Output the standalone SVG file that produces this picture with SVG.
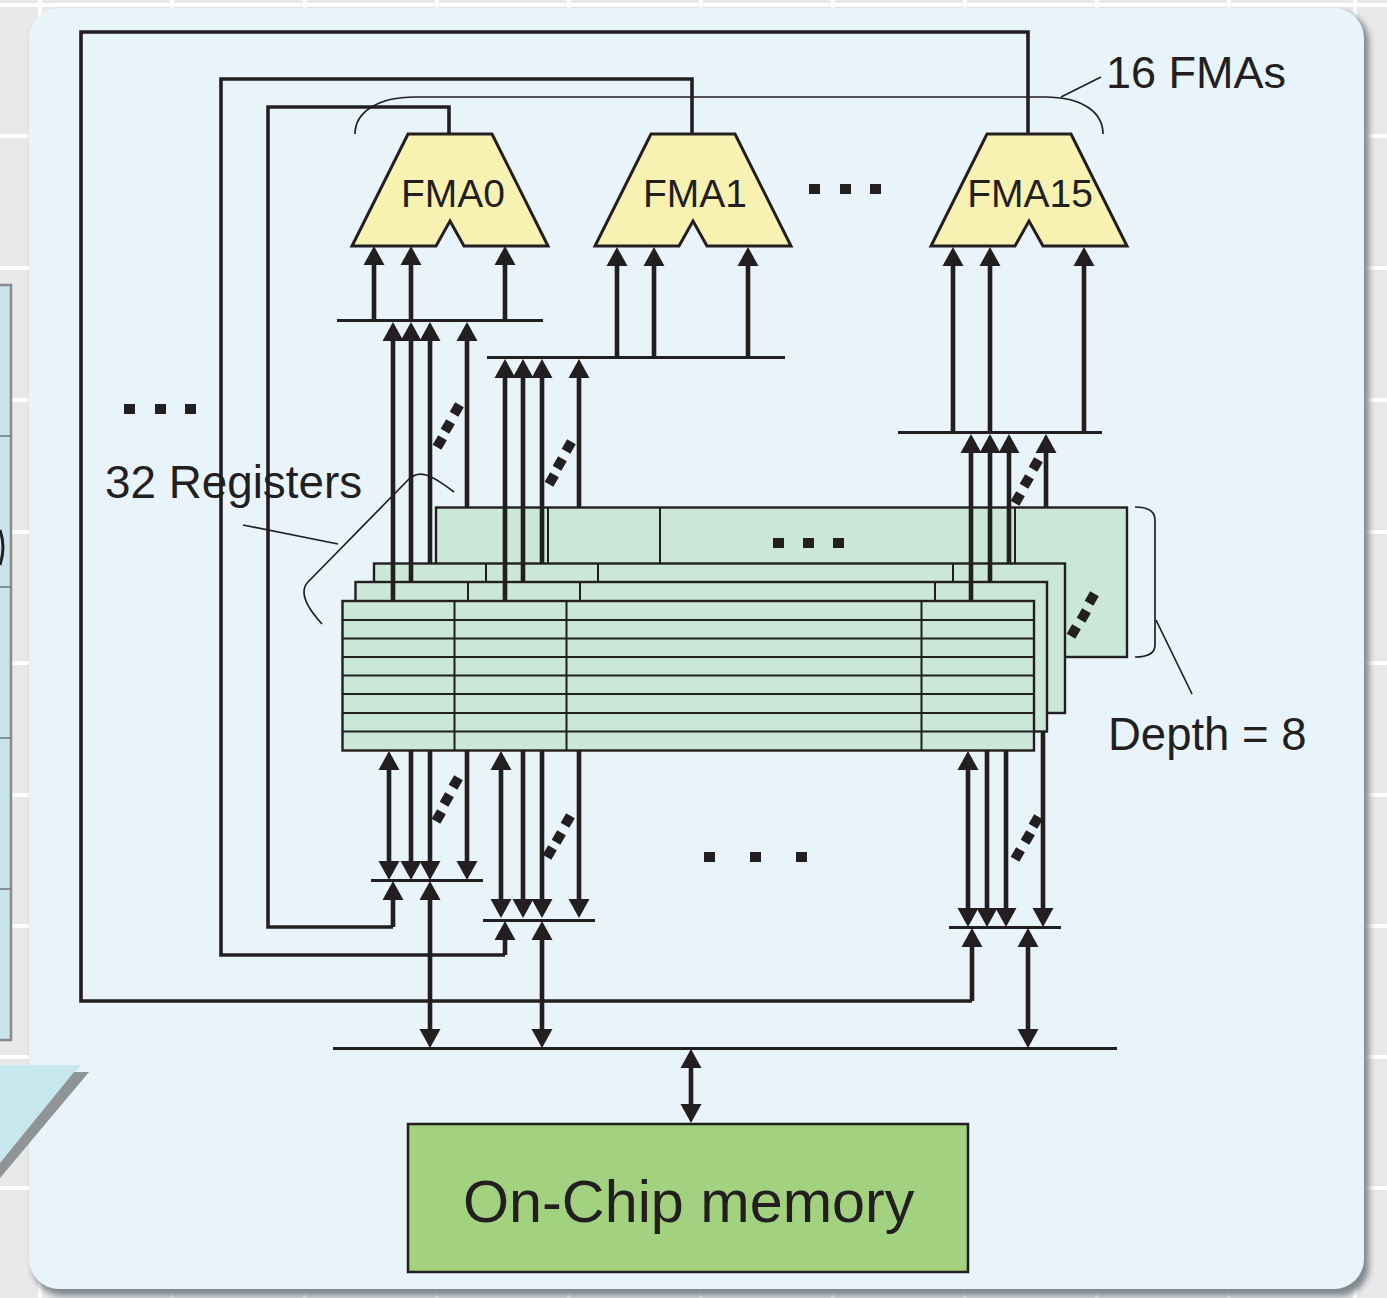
<svg xmlns="http://www.w3.org/2000/svg" width="1387" height="1298" viewBox="0 0 1387 1298">
<style>
.grid{stroke:#fff;stroke-width:4;fill:none}
.reg{fill:#cbe7d8;stroke:#231f20;stroke-width:2.4}
.sep{stroke:#231f20;stroke-width:2;fill:none}
.fma{fill:#f7f2b2;stroke:#231f20;stroke-width:3;stroke-linejoin:miter}
.w{stroke:#231f20;stroke-width:4.6;fill:none}
.wire{stroke:#231f20;stroke-width:3.6;fill:none}
.bus{stroke:#231f20;stroke-width:3.2;fill:none}
.thin{stroke:#231f20;stroke-width:1.7;fill:none}
.a{marker-end:url(#arr)}
.b{marker-start:url(#arr);marker-end:url(#arr)}
.d{fill:#231f20}
text{font-family:"Liberation Sans",Arial,sans-serif;fill:#231f20}
.f{font-size:39px;text-anchor:middle}
.l{font-size:45px}
</style>
<defs>
<marker id="arr" markerUnits="userSpaceOnUse" markerWidth="20" markerHeight="22" viewBox="0 0 20 22" refX="2" refY="11" orient="auto-start-reverse"><path d="M0 0.500L19 11L0 21.500Z" fill="#231f20"/></marker>
<filter id="sh" x="-5%" y="-5%" width="110%" height="110%"><feGaussianBlur stdDeviation="3"/></filter>
<rect id="sq" x="-5" y="-5" width="10" height="11" fill="#231f20"/>
</defs>
<g id="background">
<rect width="1387" height="1298" fill="#e9e9ea"/>
<path class="grid" d="M0 5H1387M0 136H1387M0 268H1387M0 400H1387M0 532H1387M0 663H1387M0 795H1387M0 926H1387M0 1057H1387M0 1188H1387M40 0V1298M172 0V1298M305 0V1298M437 0V1298M569 0V1298M701 0V1298M833 0V1298M965 0V1298M1097 0V1298M1229 0V1298M1355 0V1298"/>
<rect x="-6" y="285" width="17" height="755" fill="#c8e4ea" stroke="#8a8a8c" stroke-width="2.5"/>
<path d="M0 436H11M0 587H11M0 738H11M0 889H11" stroke="#6e7477" stroke-width="1.5"/>
<path d="M0 530Q6 547 0 565" stroke="#231f20" stroke-width="3" fill="none"/>
<rect x="33" y="12" width="1336" height="1284" rx="30" fill="#7e878d" filter="url(#sh)"/>
<rect x="29" y="8" width="1335" height="1281" rx="30" fill="#e8f4f9"/>
<path d="M0 1065H81L0 1163Z" fill="#c6e8ee"/>
<path d="M74 1072H89L0 1178V1163Z" fill="#8f9497"/>
</g>
<g id="registers">
<g id="reg-layer-4"><rect class="reg" x="436" y="507.500" width="691" height="149.500"/><path class="sep" d="M548 507V563M660 507V563M1015 507V563"/></g>
<g id="reg-layer-3"><rect class="reg" x="374" y="563.500" width="691" height="149.500"/><path class="sep" d="M486 563V582M598 563V582M953 563V582"/></g>
<g id="reg-layer-2"><rect class="reg" x="355.500" y="582" width="691.500" height="149.500"/><path class="sep" d="M468 582V601M580 582V601M935 582V601"/></g>
<g id="reg-layer-1"><rect class="reg" x="342.500" y="601" width="691.500" height="149.500"/><path class="sep" d="M342 620H1034M342 638.500H1034M342 657H1034M342 675.500H1034M342 694H1034M342 713H1034M342 731.500H1034M454.500 601V750M566.500 601V750M921.500 601V750"/></g>
</g>
<g id="connectors">
<path class="wire" d="M1028 134V32H81V1001H972"/>
<path class="wire" d="M692 134V79H221V955H505"/>
<path class="wire" d="M449 134V107H268V927H393"/>
<path class="bus" d="M337 320.500H543M487 357.500H785M898 432.500H1102M371 880.500H483M483 920.500H595M949 927.500H1061M333 1048.500H1117"/>
<path class="w a" d="M374 320V263"/><path class="w a" d="M411 320V263"/><path class="w a" d="M505 320V263"/>
<path class="w a" d="M393 601V339"/><path class="w a" d="M411 582V339"/><path class="w a" d="M430 563V339"/><path class="w a" d="M467 507V339"/>
<path class="w a" d="M617 357V264"/><path class="w a" d="M654 357V264"/><path class="w a" d="M748 357V264"/>
<path class="w a" d="M505 601V376"/><path class="w a" d="M523 582V376"/><path class="w a" d="M542 563V376"/><path class="w a" d="M579 507V376"/>
<path class="w a" d="M953 432V264"/><path class="w a" d="M990 432V264"/><path class="w a" d="M1084 432V264"/>
<path class="w a" d="M971 601V451"/><path class="w a" d="M990 582V451"/><path class="w a" d="M1009 563V451"/><path class="w a" d="M1046 507V451"/>
<path class="w b" d="M389 768V863"/><path class="w a" d="M411 751V863"/><path class="w a" d="M430 751V863"/><path class="w a" d="M467 751V863"/>
<path class="w b" d="M501 768V901"/><path class="w a" d="M523 751V901"/><path class="w a" d="M542 751V901"/><path class="w a" d="M579 751V901"/>
<path class="w b" d="M968 768V910"/><path class="w a" d="M987 751V910"/><path class="w a" d="M1006 751V910"/><path class="w a" d="M1043 732V910"/>
<path class="w a" d="M393 927V898"/><path class="w b" d="M430 898V1031"/>
<path class="w a" d="M505 955V938"/><path class="w b" d="M542 938V1031"/>
<path class="w a" d="M972 1001V945"/><path class="w b" d="M1028 945V1031"/>
<path class="w b" d="M691 1066V1106"/>
</g>
<g id="fma0"><path class="fma" d="M408 134H492L548 246H464L450 221L436 246H352Z"/><text class="f" x="453" y="207">FMA0</text></g>
<g id="fma1"><path class="fma" d="M651 134H735L791 246H707L693 221L679 246H595Z"/><text class="f" x="695" y="207">FMA1</text></g>
<g id="fma15"><path class="fma" d="M987 134H1071L1127 246H1043L1029 221L1015 246H931Z"/><text class="f" x="1030" y="207">FMA15</text></g>
<g id="memory"><rect x="408" y="1124" width="560" height="148" fill="#a2d180" stroke="#231f20" stroke-width="2.5"/><text x="463" y="1222" font-size="59.300">On-Chip memory</text></g>
<g id="annotations">
<path class="thin" d="M355 134C355 112 378 97 415 97H1045C1082 97 1103 112 1103 134"/>
<path class="thin" d="M1061 97L1101 77"/>
<path class="thin" d="M322 624C311 612 304 600 304 592Q304 586 308 582L408 480C418 470 428 472 454 492"/>
<path class="thin" d="M243 525L338 544"/>
<path class="thin" d="M1135 507C1148 507 1155 511 1155 520V645C1155 653 1148 657 1135 657"/>
<path class="thin" d="M1156 620L1192 694"/>
<text class="l" x="1106" y="88">16 FMAs</text>
<text class="l" x="105" y="498" font-size="45.800" style="font-size:45.800px">32 Registers</text>
<text class="l" x="1108" y="750" style="font-size:45.500px">Depth = 8</text>
<g id="ellipses">
<rect class="d" x="809" y="184" width="11" height="10"/><rect class="d" x="840" y="184" width="11" height="10"/><rect class="d" x="870" y="184" width="11" height="10"/>
<rect class="d" x="124" y="404" width="11" height="10"/><rect class="d" x="155" y="404" width="11" height="10"/><rect class="d" x="185" y="404" width="11" height="10"/>
<rect class="d" x="773" y="538" width="11" height="10"/><rect class="d" x="803" y="538" width="11" height="10"/><rect class="d" x="833" y="538" width="11" height="10"/>
<rect class="d" x="704" y="852" width="11" height="10"/><rect class="d" x="750" y="852" width="11" height="10"/><rect class="d" x="796" y="852" width="11" height="10"/>
</g>
<g id="slashes">
<use href="#sq" transform="translate(440 442) rotate(30)"/><use href="#sq" transform="translate(448 426) rotate(30)"/><use href="#sq" transform="translate(457 409) rotate(30)"/>
<use href="#sq" transform="translate(552 479) rotate(30)"/><use href="#sq" transform="translate(560 463) rotate(30)"/><use href="#sq" transform="translate(569 446) rotate(30)"/>
<use href="#sq" transform="translate(1018 498) rotate(30)"/><use href="#sq" transform="translate(1027 481) rotate(30)"/><use href="#sq" transform="translate(1036 464) rotate(30)"/>
<use href="#sq" transform="translate(1074 631) rotate(30)"/><use href="#sq" transform="translate(1084 615) rotate(30)"/><use href="#sq" transform="translate(1092 598) rotate(30)"/>
<use href="#sq" transform="translate(439 816) rotate(30)"/><use href="#sq" transform="translate(447 799) rotate(30)"/><use href="#sq" transform="translate(456 782) rotate(30)"/>
<use href="#sq" transform="translate(550 852) rotate(30)"/><use href="#sq" transform="translate(559 837) rotate(30)"/><use href="#sq" transform="translate(568 820) rotate(30)"/>
<use href="#sq" transform="translate(1018 854) rotate(30)"/><use href="#sq" transform="translate(1028 837) rotate(30)"/><use href="#sq" transform="translate(1036 821) rotate(30)"/>
</g>
</g>
</svg>
